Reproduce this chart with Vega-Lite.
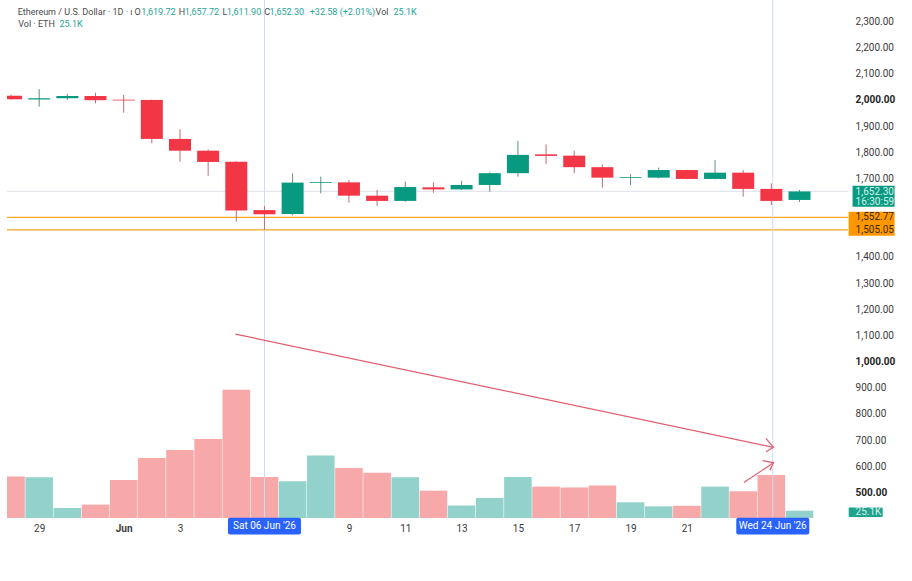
{
  "$schema": "https://vega.github.io/schema/vega-lite/v6.json",
  "width": 841,
  "height": 518,
  "autosize": {"type": "none"},
  "padding": {"left": 7, "top": 0, "right": 64, "bottom": 63},
  "background": "white",
  "config": {
    "view": {"stroke": null},
    "font": "Roboto",
    "text": {"font": "Roboto"},
    "axis": {"labelFont": "Roboto", "grid": false, "ticks": false, "domain": false, "title": null, "labelOverlap": false}
  },
  "datasets": {
    "candles": [
      {"d": -3, "o": 2018, "h": 2022, "l": 2003, "c": 2005, "v": 143},
      {"d": -2, "o": 2004, "h": 2043, "l": 1976, "c": 2008, "v": 140},
      {"d": -1, "o": 2008, "h": 2025, "l": 2002, "c": 2017, "v": 34},
      {"d": 0, "o": 2017, "h": 2030, "l": 1989, "c": 2001, "v": 46},
      {"d": 1, "o": 2003, "h": 2021, "l": 1953, "c": 2000, "v": 131},
      {"d": 2, "o": 2002, "h": 2003, "l": 1836, "c": 1853, "v": 206},
      {"d": 3, "o": 1853, "h": 1890, "l": 1766, "c": 1808, "v": 234},
      {"d": 4, "o": 1808, "h": 1813, "l": 1712, "c": 1765, "v": 272},
      {"d": 5, "o": 1766, "h": 1767, "l": 1537, "c": 1579, "v": 441},
      {"d": 6, "o": 1581, "h": 1597, "l": 1505.05, "c": 1565, "v": 141},
      {"d": 7, "o": 1566, "h": 1721, "l": 1561, "c": 1686, "v": 126},
      {"d": 8, "o": 1685, "h": 1709, "l": 1645, "c": 1688, "v": 215},
      {"d": 9, "o": 1687, "h": 1696, "l": 1609, "c": 1636, "v": 172},
      {"d": 10, "o": 1636, "h": 1658, "l": 1597, "c": 1616, "v": 156},
      {"d": 11, "o": 1616, "h": 1690, "l": 1613, "c": 1669, "v": 140},
      {"d": 12, "o": 1668, "h": 1687, "l": 1647, "c": 1660, "v": 94},
      {"d": 13, "o": 1660, "h": 1693, "l": 1658, "c": 1677, "v": 43},
      {"d": 14, "o": 1677, "h": 1725, "l": 1651, "c": 1722, "v": 69},
      {"d": 15, "o": 1722, "h": 1845, "l": 1709, "c": 1792, "v": 141},
      {"d": 16, "o": 1794, "h": 1832, "l": 1756, "c": 1788, "v": 108},
      {"d": 17, "o": 1789, "h": 1808, "l": 1722, "c": 1745, "v": 105},
      {"d": 18, "o": 1745, "h": 1756, "l": 1667, "c": 1705, "v": 112},
      {"d": 19, "o": 1704, "h": 1718, "l": 1677, "c": 1707, "v": 54},
      {"d": 20, "o": 1705, "h": 1743, "l": 1702, "c": 1734, "v": 40},
      {"d": 21, "o": 1734, "h": 1735, "l": 1699, "c": 1700, "v": 42},
      {"d": 22, "o": 1700, "h": 1772, "l": 1699, "c": 1724, "v": 108},
      {"d": 23, "o": 1724, "h": 1734, "l": 1632, "c": 1662, "v": 92},
      {"d": 24, "o": 1662, "h": 1683, "l": 1600, "c": 1616, "v": 148},
      {"d": 25, "o": 1619.72, "h": 1657.72, "l": 1611.9, "c": 1652.3, "v": 25.1}
    ],
    "priceTicks": [
      {"price": 500}, {"price": 600}, {"price": 700}, {"price": 800}, {"price": 900},
      {"price": 1000}, {"price": 1100}, {"price": 1200}, {"price": 1300}, {"price": 1400},
      {"price": 1700}, {"price": 1800}, {"price": 1900}, {"price": 2000}, {"price": 2100},
      {"price": 2200}, {"price": 2300}
    ],
    "levels": [
      {"price": 1652.3, "kind": "last"},
      {"price": 1552.77, "kind": "alert"},
      {"price": 1505.05, "kind": "alert"}
    ],
    "stamps": [
      {"d": 6, "t": "Sat 06 Jun '26"},
      {"d": 24.05, "t": "Wed 24 Jun '26"}
    ],
    "arrows": [
      {"seg": "trend", "i": 0, "d": 4.965, "p": 1107},
      {"seg": "trend", "i": 1, "d": 24.077, "p": 674},
      {"seg": "trendHead", "i": 0, "d": 23.807, "p": 708},
      {"seg": "trendHead", "i": 1, "d": 24.077, "p": 674},
      {"seg": "trendHead", "i": 2, "d": 23.807, "p": 657},
      {"seg": "rise", "i": 0, "d": 23.025, "p": 540},
      {"seg": "rise", "i": 1, "d": 24.077, "p": 615},
      {"seg": "riseHead", "i": 0, "d": 23.69, "p": 623},
      {"seg": "riseHead", "i": 1, "d": 24.077, "p": 615},
      {"seg": "riseHead", "i": 2, "d": 23.95, "p": 587}
    ],
    "legend": [
      {"t": "Ethereum / U.S. Dollar · 1D · ı", "k": "label", "d": -2.765, "p": 2338},
      {"t": "O", "k": "label", "d": 1.386, "p": 2338},
      {"t": "1,619.72", "k": "value", "d": 1.621, "p": 2338},
      {"t": "H", "k": "label", "d": 2.954, "p": 2338},
      {"t": "1,657.72", "k": "value", "d": 3.165, "p": 2338},
      {"t": "L", "k": "label", "d": 4.509, "p": 2338},
      {"t": "1,611.90", "k": "value", "d": 4.66, "p": 2338},
      {"t": "C", "k": "label", "d": 5.993, "p": 2338},
      {"t": "1,652.30", "k": "value", "d": 6.182, "p": 2338},
      {"t": "+32.58 (+2.01%)", "k": "value", "d": 7.607, "p": 2338},
      {"t": "Vol", "k": "label", "d": 9.947, "p": 2338},
      {"t": "25.1K", "k": "value", "d": 10.579, "p": 2338},
      {"t": "Vol · ETH", "k": "label", "d": -2.744, "p": 2291},
      {"t": "25.1K", "k": "value", "d": -1.281, "p": 2291}
    ],
    "tags": [
      {"t": "1,652.30", "p": 1651, "kind": "last"},
      {"t": "16:30:59", "p": 1613, "kind": "last"},
      {"t": "1,552.77", "p": 1552.77, "kind": "alert"},
      {"t": "1,505.05", "p": 1505.05, "kind": "alert"},
      {"t": "25.1K", "p": 426, "kind": "vol"}
    ]
  },
  "layer": [
    {
      "data": {"name": "candles"},
      "mark": {"type": "bar", "width": 27.6, "clip": true},
      "encoding": {
        "x": {
          "field": "d",
          "type": "quantitative",
          "scale": {"domain": [-2.965, 26.544], "nice": false, "zero": false},
          "axis": {
            "values": [-2, 1, 3, 9, 11, 13, 15, 17, 19, 21],
            "labelExpr": "datum.value == -2 ? '29' : datum.value == 1 ? 'Jun' : format(datum.value, 'd')",
            "labelFontWeight": {"condition": {"test": "datum.value == 1", "value": "bold"}, "value": "normal"},
            "labelFontSize": 10,
            "labelColor": "#3b3b3b",
            "labelPadding": 5,
            "labelOverlap": false
          }
        },
        "y": {"field": "v", "type": "quantitative", "scale": {"domain": [0, 1782], "nice": false}, "axis": null},
        "color": {"condition": {"test": "datum.c >= datum.o", "value": "#92D2CA"}, "value": "#F7A8A8"}
      }
    },
    {
      "layer": [
        {
          "data": {"name": "levels"},
          "mark": {"type": "rule", "strokeWidth": 1.2},
          "encoding": {
            "y": {"field": "price", "type": "quantitative"},
            "color": {"condition": {"test": "datum.kind == 'alert'", "value": "#F5A623"}, "value": "#E3E6EC"}
          }
        },
        {
          "data": {"name": "stamps"},
          "mark": {"type": "rule", "color": "#CFD9F5", "strokeWidth": 1},
          "encoding": {"x": {"field": "d", "type": "quantitative"}}
        },
        {
          "data": {"name": "candles"},
          "mark": {"type": "rule", "strokeWidth": 1, "clip": true},
          "encoding": {
            "x": {"field": "d", "type": "quantitative"},
            "y": {
              "field": "l",
              "type": "quantitative",
              "scale": {"domain": [404, 2384], "nice": false, "zero": false},
              "axis": {"orient": "right", "labels": false}
            },
            "y2": {"field": "h"},
            "color": {"condition": {"test": "datum.c >= datum.o", "value": "#5E8F86"}, "value": "#C26C73"}
          }
        },
        {
          "data": {"name": "candles"},
          "mark": {"type": "bar", "width": 22, "clip": true},
          "encoding": {
            "x": {"field": "d", "type": "quantitative"},
            "y": {"field": "o", "type": "quantitative"},
            "y2": {"field": "c"},
            "color": {"condition": {"test": "datum.c >= datum.o", "value": "#089981"}, "value": "#F23645"}
          }
        },
        {
          "data": {"name": "arrows"},
          "mark": {"type": "line", "color": "#E35D6E", "strokeWidth": 1.2},
          "encoding": {
            "x": {"field": "d", "type": "quantitative"},
            "y": {"field": "p", "type": "quantitative"},
            "detail": {"field": "seg"},
            "order": {"field": "i", "type": "quantitative"}
          }
        },
        {
          "data": {"name": "legend"},
          "mark": {"type": "text", "align": "left", "baseline": "middle", "fontSize": 9},
          "encoding": {
            "x": {"field": "d", "type": "quantitative"},
            "y": {"field": "p", "type": "quantitative"},
            "text": {"field": "t"},
            "color": {"condition": {"test": "datum.k == 'value'", "value": "#26A69A"}, "value": "#4A4A4A"}
          }
        },
        {
          "data": {"name": "priceTicks"},
          "transform": [{"filter": "datum.price % 500 != 0"}],
          "mark": {"type": "text", "align": "left", "baseline": "middle", "fontSize": 10, "color": "#3b3b3b"},
          "encoding": {
            "x": {"datum": 26.99, "type": "quantitative"},
            "y": {"field": "price", "type": "quantitative"},
            "text": {"field": "price", "type": "quantitative", "format": ",.2f"}
          }
        },
        {
          "data": {"name": "priceTicks"},
          "transform": [{"filter": "datum.price % 500 == 0"}],
          "mark": {"type": "text", "align": "left", "baseline": "middle", "fontSize": 10, "fontWeight": "bold", "color": "#222222"},
          "encoding": {
            "x": {"datum": 26.99, "type": "quantitative"},
            "y": {"field": "price", "type": "quantitative"},
            "text": {"field": "price", "type": "quantitative", "format": ",.2f"}
          }
        },
        {
          "data": {"name": "stamps"},
          "mark": {"type": "bar", "width": 73, "color": "#2962FF", "cornerRadius": 2},
          "encoding": {
            "x": {"field": "d", "type": "quantitative"},
            "y": {"datum": 405, "type": "quantitative"},
            "y2": {"datum": 341}
          }
        },
        {
          "data": {"name": "stamps"},
          "mark": {"type": "text", "align": "center", "baseline": "middle", "fontSize": 10, "color": "white"},
          "encoding": {
            "x": {"field": "d", "type": "quantitative"},
            "y": {"datum": 373, "type": "quantitative"},
            "text": {"field": "t"}
          }
        },
        {
          "data": {"values": [{"kind": "last"}]},
          "mark": {"type": "bar", "width": 42, "color": "#089981"},
          "encoding": {
            "x": {"datum": 27.63, "type": "quantitative"},
            "y": {"datum": 1674, "type": "quantitative"},
            "y2": {"datum": 1594}
          }
        },
        {
          "data": {"values": [{"kind": "alert"}]},
          "mark": {"type": "bar", "width": 46, "color": "#FF9800"},
          "encoding": {
            "x": {"datum": 27.56, "type": "quantitative"},
            "y": {"datum": 1575, "type": "quantitative"},
            "y2": {"datum": 1483}
          }
        },
        {
          "data": {"values": [{"kind": "vol"}]},
          "mark": {"type": "bar", "width": 34, "color": "#22A38F", "cornerRadius": 1},
          "encoding": {
            "x": {"datum": 27.35, "type": "quantitative"},
            "y": {"datum": 444, "type": "quantitative"},
            "y2": {"datum": 408}
          }
        },
        {
          "data": {"name": "tags"},
          "mark": {"type": "text", "align": "left", "baseline": "middle", "fontSize": 10},
          "encoding": {
            "x": {"datum": 26.99, "type": "quantitative"},
            "y": {"field": "p", "type": "quantitative"},
            "text": {"field": "t"},
            "color": {"condition": {"test": "datum.kind == 'alert'", "value": "#3A2A00"}, "value": "#D6F2EC"}
          }
        }
      ]
    }
  ],
  "resolve": {"scale": {"y": "independent"}}
}
